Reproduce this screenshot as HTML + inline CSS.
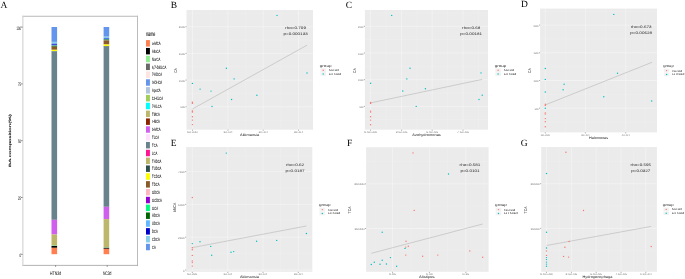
<!DOCTYPE html>
<html lang="en">
<head>
<meta charset="utf-8">
<title>Figure</title>
<style>
html,body{margin:0;padding:0;background:#fff;}
body{width:685px;height:279px;overflow:hidden;}
svg{display:block;}
text{text-rendering:geometricPrecision;}
text.s{font-family:'Liberation Sans', sans-serif;}
text.r{font-family:'Liberation Serif', serif;}
</style>
</head>
<body>
<svg width="685" height="279" viewBox="0 0 685 279">
<rect x="0" y="0" width="685" height="279" fill="#ffffff"/>
<g id="panelA">
<text class="r" x="0.6" y="7.9" font-size="9.5" text-anchor="start" fill="#000">A</text>
<line x1="22.3" x2="138.0" y1="16.25" y2="16.25" stroke="#b8b8b8" stroke-width="1"/>
<line x1="137.5" x2="137.5" y1="15.8" y2="265.8" stroke="#bcbcbc" stroke-width="1"/>
<line x1="22.3" x2="138.0" y1="265.4" y2="265.4" stroke="#a0a0a0" stroke-width="0.8"/>
<line x1="22.85" x2="22.85" y1="15.8" y2="265.8" stroke="#d6d6d6" stroke-width="1.2"/>
<rect x="51.5" y="27.00" width="5.6" height="14.90" fill="#6495ED"/>
<rect x="51.5" y="41.90" width="5.6" height="1.90" fill="#87CEEB"/>
<rect x="51.5" y="43.80" width="5.6" height="1.00" fill="#0000CD"/>
<rect x="51.5" y="44.80" width="5.6" height="0.90" fill="#63B8FF"/>
<rect x="51.5" y="45.70" width="5.6" height="1.00" fill="#006400"/>
<rect x="51.5" y="46.70" width="5.6" height="3.10" fill="#8B5A2B"/>
<rect x="51.5" y="49.80" width="5.6" height="1.20" fill="#FFFF00"/>
<rect x="51.5" y="51.00" width="5.6" height="0.30" fill="#2F4F4F"/>
<rect x="51.5" y="51.30" width="5.6" height="168.50" fill="#68838B"/>
<rect x="51.5" y="219.80" width="5.6" height="14.70" fill="#D15FEE"/>
<rect x="51.5" y="234.50" width="5.6" height="10.80" fill="#BDB76B"/>
<rect x="51.5" y="245.30" width="5.6" height="0.60" fill="#90EE90"/>
<rect x="51.5" y="245.90" width="5.6" height="1.90" fill="#000000"/>
<rect x="51.5" y="247.80" width="5.6" height="6.40" fill="#FF7F50"/>
<rect x="103.6" y="27.00" width="5.6" height="9.70" fill="#6495ED"/>
<rect x="103.6" y="36.70" width="5.6" height="1.20" fill="#87CEEB"/>
<rect x="103.6" y="37.90" width="5.6" height="1.30" fill="#4A7BE8"/>
<rect x="103.6" y="39.20" width="5.6" height="1.20" fill="#2E8B57"/>
<rect x="103.6" y="40.40" width="5.6" height="4.10" fill="#8B5A2B"/>
<rect x="103.6" y="44.50" width="5.6" height="1.50" fill="#FFFF00"/>
<rect x="103.6" y="46.00" width="5.6" height="0.60" fill="#2F4F4F"/>
<rect x="103.6" y="46.60" width="5.6" height="160.20" fill="#68838B"/>
<rect x="103.6" y="206.80" width="5.6" height="12.30" fill="#D15FEE"/>
<rect x="103.6" y="219.10" width="5.6" height="28.20" fill="#BDB76B"/>
<rect x="103.6" y="247.30" width="5.6" height="0.50" fill="#90EE90"/>
<rect x="103.6" y="247.80" width="5.6" height="1.00" fill="#000000"/>
<rect x="103.6" y="248.80" width="5.6" height="5.40" fill="#FF7F50"/>
<line x1="21.30" x2="22.40" y1="254.30" y2="254.30" stroke="#222" stroke-width="0.75"/>
<text class="s" x="20.900000000000002" y="256.8" font-size="4.9" text-anchor="end" fill="#333" textLength="1.5" lengthAdjust="spacingAndGlyphs" stroke="#000" stroke-width="0.08" stroke-opacity="0.8">0</text>
<line x1="21.30" x2="22.40" y1="197.50" y2="197.50" stroke="#222" stroke-width="0.75"/>
<text class="s" x="20.900000000000002" y="200.0" font-size="4.9" text-anchor="end" fill="#333" textLength="3.0" lengthAdjust="spacingAndGlyphs" stroke="#000" stroke-width="0.08" stroke-opacity="0.8">25</text>
<line x1="21.30" x2="22.40" y1="140.70" y2="140.70" stroke="#222" stroke-width="0.75"/>
<text class="s" x="20.900000000000002" y="143.2" font-size="4.9" text-anchor="end" fill="#333" textLength="3.0" lengthAdjust="spacingAndGlyphs" stroke="#000" stroke-width="0.08" stroke-opacity="0.8">50</text>
<line x1="21.30" x2="22.40" y1="83.90" y2="83.90" stroke="#222" stroke-width="0.75"/>
<text class="s" x="20.900000000000002" y="86.4" font-size="4.9" text-anchor="end" fill="#333" textLength="3.0" lengthAdjust="spacingAndGlyphs" stroke="#000" stroke-width="0.08" stroke-opacity="0.8">75</text>
<line x1="21.30" x2="22.40" y1="27.10" y2="27.10" stroke="#222" stroke-width="0.75"/>
<text class="s" x="20.900000000000002" y="29.6" font-size="4.9" text-anchor="end" fill="#333" textLength="4.4" lengthAdjust="spacingAndGlyphs" stroke="#000" stroke-width="0.08" stroke-opacity="0.8">100</text>
<line x1="55.6" x2="55.6" y1="265.5" y2="266.7" stroke="#222" stroke-width="0.6"/>
<text class="s" x="55.6" y="274.6" font-size="5.0" text-anchor="middle" fill="#333" textLength="11.0" lengthAdjust="spacingAndGlyphs" stroke="#000" stroke-width="0.08" stroke-opacity="0.8">HTN3d</text>
<line x1="107.2" x2="107.2" y1="265.5" y2="266.7" stroke="#222" stroke-width="0.6"/>
<text class="s" x="107.2" y="274.6" font-size="5.0" text-anchor="middle" fill="#333" textLength="8.6" lengthAdjust="spacingAndGlyphs" stroke="#000" stroke-width="0.08" stroke-opacity="0.8">NC3d</text>
<text class="s" transform="translate(10.9,140.5) scale(0.5,1) rotate(-90)" font-size="6.25" text-anchor="middle" fill="#000" stroke="#000" stroke-width="0.3" stroke-opacity="0.7">BA composition(%)</text>
<text class="s" x="146.0" y="36.0" font-size="6.4" text-anchor="start" fill="#000" textLength="9.3" lengthAdjust="spacingAndGlyphs" stroke="#000" stroke-width="0.08" stroke-opacity="0.8">name</text>
<rect x="146.0" y="40.10" width="3.9" height="6.45" fill="#FF7F50"/>
<text class="s" x="152.1" y="45.0" font-size="4.6" text-anchor="start" fill="#000" textLength="8.38" lengthAdjust="spacingAndGlyphs" stroke="#000" stroke-width="0.08" stroke-opacity="0.8">a-MCA</text>
<rect x="146.0" y="47.94" width="3.9" height="6.45" fill="#000000"/>
<text class="s" x="152.1" y="52.84" font-size="4.6" text-anchor="start" fill="#000" textLength="8.24" lengthAdjust="spacingAndGlyphs" stroke="#000" stroke-width="0.08" stroke-opacity="0.8">AlloCA</text>
<rect x="146.0" y="55.77" width="3.9" height="6.45" fill="#90EE90"/>
<text class="s" x="152.1" y="60.67" font-size="4.6" text-anchor="start" fill="#000" textLength="8.09" lengthAdjust="spacingAndGlyphs" stroke="#000" stroke-width="0.08" stroke-opacity="0.8">NorCA</text>
<rect x="146.0" y="63.61" width="3.9" height="6.45" fill="#696969"/>
<text class="s" x="152.1" y="68.51" font-size="4.6" text-anchor="start" fill="#000" textLength="14.23" lengthAdjust="spacingAndGlyphs" stroke="#000" stroke-width="0.08" stroke-opacity="0.8">6,7-DiKLCA</text>
<rect x="146.0" y="71.44" width="3.9" height="6.45" fill="#FFE4E1"/>
<text class="s" x="152.1" y="76.34" font-size="4.6" text-anchor="start" fill="#000" textLength="9.88" lengthAdjust="spacingAndGlyphs" stroke="#000" stroke-width="0.08" stroke-opacity="0.8">7-KDCA</text>
<rect x="146.0" y="79.28" width="3.9" height="6.45" fill="#6495ED"/>
<text class="s" x="152.1" y="84.18" font-size="4.6" text-anchor="start" fill="#000" textLength="10.03" lengthAdjust="spacingAndGlyphs" stroke="#000" stroke-width="0.08" stroke-opacity="0.8">3-DHCA</text>
<rect x="146.0" y="87.11" width="3.9" height="6.45" fill="#B0C4DE"/>
<text class="s" x="152.1" y="92.01" font-size="4.6" text-anchor="start" fill="#000" textLength="8.54" lengthAdjust="spacingAndGlyphs" stroke="#000" stroke-width="0.08" stroke-opacity="0.8">ApoCA</text>
<rect x="146.0" y="94.94" width="3.9" height="6.45" fill="#A2CD5A"/>
<text class="s" x="152.1" y="99.84" font-size="4.6" text-anchor="start" fill="#000" textLength="10.93" lengthAdjust="spacingAndGlyphs" stroke="#000" stroke-width="0.08" stroke-opacity="0.8">12-KLCA</text>
<rect x="146.0" y="102.78" width="3.9" height="6.45" fill="#00FFFF"/>
<text class="s" x="152.1" y="107.68" font-size="4.6" text-anchor="start" fill="#000" textLength="9.44" lengthAdjust="spacingAndGlyphs" stroke="#000" stroke-width="0.08" stroke-opacity="0.8">7-KLCA</text>
<rect x="146.0" y="110.62" width="3.9" height="6.45" fill="#BDB76B"/>
<text class="s" x="152.1" y="115.52" font-size="4.6" text-anchor="start" fill="#000" textLength="7.63" lengthAdjust="spacingAndGlyphs" stroke="#000" stroke-width="0.08" stroke-opacity="0.8">TMCA</text>
<rect x="146.0" y="118.45" width="3.9" height="6.45" fill="#8B2500"/>
<text class="s" x="152.1" y="123.35" font-size="4.6" text-anchor="start" fill="#000" textLength="7.78" lengthAdjust="spacingAndGlyphs" stroke="#000" stroke-width="0.08" stroke-opacity="0.8">r-MCA</text>
<rect x="146.0" y="126.28" width="3.9" height="6.45" fill="#D15FEE"/>
<text class="s" x="152.1" y="131.19" font-size="4.6" text-anchor="start" fill="#000" textLength="8.38" lengthAdjust="spacingAndGlyphs" stroke="#000" stroke-width="0.08" stroke-opacity="0.8">b-MCA</text>
<rect x="146.0" y="134.12" width="3.9" height="6.45" fill="#FFE1FF"/>
<text class="s" x="152.1" y="139.02" font-size="4.6" text-anchor="start" fill="#000" textLength="6.89" lengthAdjust="spacingAndGlyphs" stroke="#000" stroke-width="0.08" stroke-opacity="0.8">TLCA</text>
<rect x="146.0" y="141.96" width="3.9" height="6.45" fill="#68838B"/>
<text class="s" x="152.1" y="146.86" font-size="4.6" text-anchor="start" fill="#000" textLength="5.39" lengthAdjust="spacingAndGlyphs" stroke="#000" stroke-width="0.08" stroke-opacity="0.8">TCA</text>
<rect x="146.0" y="149.79" width="3.9" height="6.45" fill="#FF1493"/>
<text class="s" x="152.1" y="154.69" font-size="4.6" text-anchor="start" fill="#000" textLength="5.24" lengthAdjust="spacingAndGlyphs" stroke="#000" stroke-width="0.08" stroke-opacity="0.8">LCA</text>
<rect x="146.0" y="157.62" width="3.9" height="6.45" fill="#BDB76B"/>
<text class="s" x="152.1" y="162.53" font-size="4.6" text-anchor="start" fill="#000" textLength="9.28" lengthAdjust="spacingAndGlyphs" stroke="#000" stroke-width="0.08" stroke-opacity="0.8">THDCA</text>
<rect x="146.0" y="165.46" width="3.9" height="6.45" fill="#2F4F4F"/>
<text class="s" x="152.1" y="170.36" font-size="4.6" text-anchor="start" fill="#000" textLength="9.28" lengthAdjust="spacingAndGlyphs" stroke="#000" stroke-width="0.08" stroke-opacity="0.8">TUDCA</text>
<rect x="146.0" y="173.29" width="3.9" height="6.45" fill="#FFFF00"/>
<text class="s" x="152.1" y="178.19" font-size="4.6" text-anchor="start" fill="#000" textLength="9.28" lengthAdjust="spacingAndGlyphs" stroke="#000" stroke-width="0.08" stroke-opacity="0.8">TCDCA</text>
<rect x="146.0" y="181.13" width="3.9" height="6.45" fill="#8B5A2B"/>
<text class="s" x="152.1" y="186.03" font-size="4.6" text-anchor="start" fill="#000" textLength="7.34" lengthAdjust="spacingAndGlyphs" stroke="#000" stroke-width="0.08" stroke-opacity="0.8">TDCA</text>
<rect x="146.0" y="188.97" width="3.9" height="6.45" fill="#FFB6C1"/>
<text class="s" x="152.1" y="193.87" font-size="4.6" text-anchor="start" fill="#000" textLength="7.79" lengthAdjust="spacingAndGlyphs" stroke="#000" stroke-width="0.08" stroke-opacity="0.8">GDCA</text>
<rect x="146.0" y="196.80" width="3.9" height="6.45" fill="#9400D3"/>
<text class="s" x="152.1" y="201.7" font-size="4.6" text-anchor="start" fill="#000" textLength="9.73" lengthAdjust="spacingAndGlyphs" stroke="#000" stroke-width="0.08" stroke-opacity="0.8">GCDCA</text>
<rect x="146.0" y="204.63" width="3.9" height="6.45" fill="#00FF7F"/>
<text class="s" x="152.1" y="209.53" font-size="4.6" text-anchor="start" fill="#000" textLength="5.84" lengthAdjust="spacingAndGlyphs" stroke="#000" stroke-width="0.08" stroke-opacity="0.8">GCA</text>
<rect x="146.0" y="212.47" width="3.9" height="6.45" fill="#006400"/>
<text class="s" x="152.1" y="217.37" font-size="4.6" text-anchor="start" fill="#000" textLength="7.63" lengthAdjust="spacingAndGlyphs" stroke="#000" stroke-width="0.08" stroke-opacity="0.8">HDCA</text>
<rect x="146.0" y="220.31" width="3.9" height="6.45" fill="#63B8FF"/>
<text class="s" x="152.1" y="225.21" font-size="4.6" text-anchor="start" fill="#000" textLength="7.63" lengthAdjust="spacingAndGlyphs" stroke="#000" stroke-width="0.08" stroke-opacity="0.8">UDCA</text>
<rect x="146.0" y="228.14" width="3.9" height="6.45" fill="#0000CD"/>
<text class="s" x="152.1" y="233.04" font-size="4.6" text-anchor="start" fill="#000" textLength="5.69" lengthAdjust="spacingAndGlyphs" stroke="#000" stroke-width="0.08" stroke-opacity="0.8">DCA</text>
<rect x="146.0" y="235.97" width="3.9" height="6.45" fill="#87CEEB"/>
<text class="s" x="152.1" y="240.88" font-size="4.6" text-anchor="start" fill="#000" textLength="7.63" lengthAdjust="spacingAndGlyphs" stroke="#000" stroke-width="0.08" stroke-opacity="0.8">CDCA</text>
<rect x="146.0" y="243.81" width="3.9" height="6.45" fill="#6495ED"/>
<text class="s" x="152.1" y="248.71" font-size="4.6" text-anchor="start" fill="#000" textLength="3.74" lengthAdjust="spacingAndGlyphs" stroke="#000" stroke-width="0.08" stroke-opacity="0.8">CA</text>
</g>
<g id="panelB">
<text class="r" x="170.7" y="7.8" font-size="9.5" text-anchor="start" fill="#000">B</text>
<rect x="186.5" y="10.0" width="126.50" height="119.70" fill="#EBEBEB"/>
<line x1="186.5" x2="313.0" y1="120.15" y2="120.15" stroke="#fff" stroke-width="0.14"/>
<line x1="186.5" x2="313.0" y1="93.45" y2="93.45" stroke="#fff" stroke-width="0.14"/>
<line x1="186.5" x2="313.0" y1="66.75" y2="66.75" stroke="#fff" stroke-width="0.14"/>
<line x1="186.5" x2="313.0" y1="40.05" y2="40.05" stroke="#fff" stroke-width="0.14"/>
<line x1="186.5" x2="313.0" y1="13.35" y2="13.35" stroke="#fff" stroke-width="0.14"/>
<line x1="210.20" x2="210.20" y1="10.0" y2="129.7" stroke="#fff" stroke-width="0.14"/>
<line x1="245.50" x2="245.50" y1="10.0" y2="129.7" stroke="#fff" stroke-width="0.14"/>
<line x1="280.90" x2="280.90" y1="10.0" y2="129.7" stroke="#fff" stroke-width="0.14"/>
<line x1="186.5" x2="313.0" y1="106.80" y2="106.80" stroke="#fff" stroke-width="0.35"/>
<line x1="186.5" x2="313.0" y1="80.10" y2="80.10" stroke="#fff" stroke-width="0.35"/>
<line x1="186.5" x2="313.0" y1="53.40" y2="53.40" stroke="#fff" stroke-width="0.35"/>
<line x1="186.5" x2="313.0" y1="26.70" y2="26.70" stroke="#fff" stroke-width="0.35"/>
<line x1="192.50" x2="192.50" y1="10.0" y2="129.7" stroke="#fff" stroke-width="0.35"/>
<line x1="227.90" x2="227.90" y1="10.0" y2="129.7" stroke="#fff" stroke-width="0.35"/>
<line x1="263.20" x2="263.20" y1="10.0" y2="129.7" stroke="#fff" stroke-width="0.35"/>
<line x1="298.50" x2="298.50" y1="10.0" y2="129.7" stroke="#fff" stroke-width="0.35"/>
<line x1="192.4" y1="109.0" x2="307.0" y2="45.2" stroke="#a8a8a8" stroke-width="0.48"/>
<circle cx="192.4" cy="102.3" r="0.7" fill="#F8766D"/>
<circle cx="192.4" cy="103.3" r="0.7" fill="#F8766D"/>
<circle cx="192.4" cy="111.0" r="0.7" fill="#F8766D"/>
<circle cx="192.4" cy="112.0" r="0.7" fill="#F8766D"/>
<circle cx="192.4" cy="116.7" r="0.7" fill="#F8766D"/>
<circle cx="192.4" cy="120.1" r="0.7" fill="#F8766D"/>
<circle cx="192.4" cy="124.6" r="0.7" fill="#F8766D"/>
<circle cx="277.0" cy="15.4" r="0.7" fill="#00BFC4"/>
<circle cx="226.4" cy="68.3" r="0.7" fill="#00BFC4"/>
<circle cx="307.0" cy="73.0" r="0.7" fill="#00BFC4"/>
<circle cx="192.4" cy="83.4" r="0.7" fill="#00BFC4"/>
<circle cx="200.1" cy="89.1" r="0.7" fill="#00BFC4"/>
<circle cx="211.0" cy="91.1" r="0.7" fill="#00BFC4"/>
<circle cx="234.1" cy="78.9" r="0.7" fill="#00BFC4"/>
<circle cx="231.6" cy="99.5" r="0.7" fill="#00BFC4"/>
<circle cx="212.0" cy="106.5" r="0.7" fill="#00BFC4"/>
<circle cx="256.9" cy="95.3" r="0.7" fill="#00BFC4"/>
<text class="s" x="295.6" y="28.8" font-size="3.6" text-anchor="middle" fill="#222" textLength="20.72" lengthAdjust="spacingAndGlyphs">rho=0.709</text>
<text class="s" x="295.6" y="34.8" font-size="3.6" text-anchor="middle" fill="#222" textLength="24.28" lengthAdjust="spacingAndGlyphs">p=0.000133</text>
<line x1="185.50" x2="186.5" y1="106.80" y2="106.80" stroke="#333" stroke-width="0.45"/>
<text class="s" x="185.0" y="108.3" font-size="2.7" text-anchor="end" fill="#707070" textLength="4.59" lengthAdjust="spacingAndGlyphs">500</text>
<line x1="185.50" x2="186.5" y1="80.10" y2="80.10" stroke="#333" stroke-width="0.45"/>
<text class="s" x="185.0" y="81.6" font-size="2.7" text-anchor="end" fill="#707070" textLength="6.12" lengthAdjust="spacingAndGlyphs">1000</text>
<line x1="185.50" x2="186.5" y1="53.40" y2="53.40" stroke="#333" stroke-width="0.45"/>
<text class="s" x="185.0" y="54.9" font-size="2.7" text-anchor="end" fill="#707070" textLength="6.12" lengthAdjust="spacingAndGlyphs">1500</text>
<line x1="185.50" x2="186.5" y1="26.70" y2="26.70" stroke="#333" stroke-width="0.45"/>
<text class="s" x="185.0" y="28.2" font-size="2.7" text-anchor="end" fill="#707070" textLength="6.12" lengthAdjust="spacingAndGlyphs">2000</text>
<line x1="192.50" x2="192.50" y1="129.7" y2="130.70" stroke="#333" stroke-width="0.45"/>
<text class="s" x="192.5" y="133.15" font-size="2.7" text-anchor="middle" fill="#707070" textLength="10.39" lengthAdjust="spacingAndGlyphs">0e+00</text>
<line x1="227.90" x2="227.90" y1="129.7" y2="130.70" stroke="#333" stroke-width="0.45"/>
<text class="s" x="227.9" y="133.15" font-size="2.7" text-anchor="middle" fill="#707070" textLength="9.46" lengthAdjust="spacingAndGlyphs">1e-04</text>
<line x1="263.20" x2="263.20" y1="129.7" y2="130.70" stroke="#333" stroke-width="0.45"/>
<text class="s" x="263.2" y="133.15" font-size="2.7" text-anchor="middle" fill="#707070" textLength="9.46" lengthAdjust="spacingAndGlyphs">2e-04</text>
<line x1="298.50" x2="298.50" y1="129.7" y2="130.70" stroke="#333" stroke-width="0.45"/>
<text class="s" x="298.5" y="133.15" font-size="2.7" text-anchor="middle" fill="#707070" textLength="9.46" lengthAdjust="spacingAndGlyphs">3e-04</text>
<text class="s" x="249.6" y="136.2" font-size="3.5" text-anchor="middle" fill="#222" textLength="19.0" lengthAdjust="spacingAndGlyphs">Akkmansia</text>
<text class="s" transform="translate(176.5,70.5) scale(1.2,1) rotate(-90)" font-size="3.4" text-anchor="middle" fill="#222">CA</text>
<text class="s" x="319.8" y="67.0" font-size="3.5" text-anchor="start" fill="#222" textLength="11.69" lengthAdjust="spacingAndGlyphs">group</text>
<rect x="320.40" y="68.35" width="5.6" height="3.7" fill="#F2F2F2"/>
<circle cx="323.20" cy="70.20" r="0.7" fill="#F8766D"/>
<text class="s" x="328.8" y="71.2" font-size="2.7" text-anchor="start" fill="#222" textLength="9.97" lengthAdjust="spacingAndGlyphs">NC3d</text>
<rect x="320.40" y="72.20" width="5.6" height="3.7" fill="#F2F2F2"/>
<circle cx="323.20" cy="74.05" r="0.7" fill="#00BFC4"/>
<text class="s" x="328.8" y="75.05" font-size="2.7" text-anchor="start" fill="#222" textLength="12.35" lengthAdjust="spacingAndGlyphs">HTN3d</text>
</g>
<g id="panelC">
<text class="r" x="345.8" y="7.8" font-size="9.5" text-anchor="start" fill="#000">C</text>
<rect x="364.9" y="10.0" width="123.10" height="119.70" fill="#EBEBEB"/>
<line x1="364.9" x2="488.0" y1="119.75" y2="119.75" stroke="#fff" stroke-width="0.14"/>
<line x1="364.9" x2="488.0" y1="93.05" y2="93.05" stroke="#fff" stroke-width="0.14"/>
<line x1="364.9" x2="488.0" y1="66.35" y2="66.35" stroke="#fff" stroke-width="0.14"/>
<line x1="364.9" x2="488.0" y1="39.65" y2="39.65" stroke="#fff" stroke-width="0.14"/>
<line x1="364.9" x2="488.0" y1="12.95" y2="12.95" stroke="#fff" stroke-width="0.14"/>
<line x1="386.10" x2="386.10" y1="10.0" y2="129.7" stroke="#fff" stroke-width="0.14"/>
<line x1="416.90" x2="416.90" y1="10.0" y2="129.7" stroke="#fff" stroke-width="0.14"/>
<line x1="447.60" x2="447.60" y1="10.0" y2="129.7" stroke="#fff" stroke-width="0.14"/>
<line x1="478.40" x2="478.40" y1="10.0" y2="129.7" stroke="#fff" stroke-width="0.14"/>
<line x1="364.9" x2="488.0" y1="106.40" y2="106.40" stroke="#fff" stroke-width="0.35"/>
<line x1="364.9" x2="488.0" y1="79.70" y2="79.70" stroke="#fff" stroke-width="0.35"/>
<line x1="364.9" x2="488.0" y1="53.00" y2="53.00" stroke="#fff" stroke-width="0.35"/>
<line x1="364.9" x2="488.0" y1="26.30" y2="26.30" stroke="#fff" stroke-width="0.35"/>
<line x1="370.60" x2="370.60" y1="10.0" y2="129.7" stroke="#fff" stroke-width="0.35"/>
<line x1="401.60" x2="401.60" y1="10.0" y2="129.7" stroke="#fff" stroke-width="0.35"/>
<line x1="432.20" x2="432.20" y1="10.0" y2="129.7" stroke="#fff" stroke-width="0.35"/>
<line x1="463.00" x2="463.00" y1="10.0" y2="129.7" stroke="#fff" stroke-width="0.35"/>
<line x1="370.6" y1="102.9" x2="482.2" y2="79.4" stroke="#a8a8a8" stroke-width="0.48"/>
<circle cx="370.6" cy="102.4" r="0.7" fill="#F8766D"/>
<circle cx="370.6" cy="103.4" r="0.7" fill="#F8766D"/>
<circle cx="370.6" cy="111.1" r="0.7" fill="#F8766D"/>
<circle cx="370.6" cy="112.1" r="0.7" fill="#F8766D"/>
<circle cx="370.6" cy="116.8" r="0.7" fill="#F8766D"/>
<circle cx="370.6" cy="120.1" r="0.7" fill="#F8766D"/>
<circle cx="370.6" cy="124.8" r="0.7" fill="#F8766D"/>
<circle cx="391.7" cy="15.4" r="0.7" fill="#00BFC4"/>
<circle cx="410.0" cy="68.2" r="0.7" fill="#00BFC4"/>
<circle cx="406.8" cy="78.9" r="0.7" fill="#00BFC4"/>
<circle cx="370.6" cy="83.3" r="0.7" fill="#00BFC4"/>
<circle cx="402.8" cy="91.0" r="0.7" fill="#00BFC4"/>
<circle cx="425.4" cy="88.8" r="0.7" fill="#00BFC4"/>
<circle cx="416.2" cy="106.4" r="0.7" fill="#00BFC4"/>
<circle cx="481.0" cy="72.9" r="0.7" fill="#00BFC4"/>
<circle cx="482.2" cy="95.3" r="0.7" fill="#00BFC4"/>
<circle cx="479.0" cy="99.5" r="0.7" fill="#00BFC4"/>
<text class="s" x="471.2" y="28.5" font-size="3.6" text-anchor="middle" fill="#222" textLength="18.17" lengthAdjust="spacingAndGlyphs">rho=0.68</text>
<text class="s" x="471.2" y="34.5" font-size="3.6" text-anchor="middle" fill="#222" textLength="21.74" lengthAdjust="spacingAndGlyphs">p=0.00181</text>
<line x1="363.90" x2="364.9" y1="106.40" y2="106.40" stroke="#333" stroke-width="0.45"/>
<text class="s" x="363.4" y="107.9" font-size="2.7" text-anchor="end" fill="#707070" textLength="4.0" lengthAdjust="spacingAndGlyphs">500</text>
<line x1="363.90" x2="364.9" y1="79.70" y2="79.70" stroke="#333" stroke-width="0.45"/>
<text class="s" x="363.4" y="81.2" font-size="2.7" text-anchor="end" fill="#707070" textLength="5.34" lengthAdjust="spacingAndGlyphs">1000</text>
<line x1="363.90" x2="364.9" y1="53.00" y2="53.00" stroke="#333" stroke-width="0.45"/>
<text class="s" x="363.4" y="54.5" font-size="2.7" text-anchor="end" fill="#707070" textLength="5.34" lengthAdjust="spacingAndGlyphs">1500</text>
<line x1="363.90" x2="364.9" y1="26.30" y2="26.30" stroke="#333" stroke-width="0.45"/>
<text class="s" x="363.4" y="27.8" font-size="2.7" text-anchor="end" fill="#707070" textLength="5.34" lengthAdjust="spacingAndGlyphs">2000</text>
<line x1="370.60" x2="370.60" y1="129.7" y2="130.70" stroke="#333" stroke-width="0.45"/>
<text class="s" x="370.6" y="133.15" font-size="2.7" text-anchor="middle" fill="#707070" textLength="12.75" lengthAdjust="spacingAndGlyphs">0.0e+00</text>
<line x1="401.60" x2="401.60" y1="129.7" y2="130.70" stroke="#333" stroke-width="0.45"/>
<text class="s" x="401.6" y="133.15" font-size="2.7" text-anchor="middle" fill="#707070" textLength="11.87" lengthAdjust="spacingAndGlyphs">2.5e-05</text>
<line x1="432.20" x2="432.20" y1="129.7" y2="130.70" stroke="#333" stroke-width="0.45"/>
<text class="s" x="432.2" y="133.15" font-size="2.7" text-anchor="middle" fill="#707070" textLength="11.87" lengthAdjust="spacingAndGlyphs">5.0e-05</text>
<line x1="463.00" x2="463.00" y1="129.7" y2="130.70" stroke="#333" stroke-width="0.45"/>
<text class="s" x="463.0" y="133.15" font-size="2.7" text-anchor="middle" fill="#707070" textLength="11.87" lengthAdjust="spacingAndGlyphs">7.5e-05</text>
<text class="s" x="426.6" y="136.2" font-size="3.5" text-anchor="middle" fill="#222" textLength="28.5" lengthAdjust="spacingAndGlyphs">Azohydromonas</text>
<text class="s" transform="translate(355.6,70.7) scale(1.2,1) rotate(-90)" font-size="3.4" text-anchor="middle" fill="#222">CA</text>
<text class="s" x="494.7" y="67.0" font-size="3.5" text-anchor="start" fill="#222" textLength="11.69" lengthAdjust="spacingAndGlyphs">group</text>
<rect x="495.30" y="68.35" width="5.6" height="3.7" fill="#F2F2F2"/>
<circle cx="498.10" cy="70.20" r="0.7" fill="#F8766D"/>
<text class="s" x="503.7" y="71.2" font-size="2.7" text-anchor="start" fill="#222" textLength="10.22" lengthAdjust="spacingAndGlyphs">NC3d</text>
<rect x="495.30" y="72.20" width="5.6" height="3.7" fill="#F2F2F2"/>
<circle cx="498.10" cy="74.05" r="0.7" fill="#00BFC4"/>
<text class="s" x="503.7" y="75.05" font-size="2.7" text-anchor="start" fill="#222" textLength="12.67" lengthAdjust="spacingAndGlyphs">HTN3d</text>
</g>
<g id="panelD">
<text class="r" x="520.9" y="6.5" font-size="9.5" text-anchor="start" fill="#000">D</text>
<rect x="540.1" y="8.6" width="116.90" height="123.80" fill="#EBEBEB"/>
<line x1="540.1" x2="657.0" y1="122.05" y2="122.05" stroke="#fff" stroke-width="0.14"/>
<line x1="540.1" x2="657.0" y1="94.35" y2="94.35" stroke="#fff" stroke-width="0.14"/>
<line x1="540.1" x2="657.0" y1="66.65" y2="66.65" stroke="#fff" stroke-width="0.14"/>
<line x1="540.1" x2="657.0" y1="38.95" y2="38.95" stroke="#fff" stroke-width="0.14"/>
<line x1="540.1" x2="657.0" y1="11.25" y2="11.25" stroke="#fff" stroke-width="0.14"/>
<line x1="565.40" x2="565.40" y1="8.6" y2="132.4" stroke="#fff" stroke-width="0.14"/>
<line x1="605.60" x2="605.60" y1="8.6" y2="132.4" stroke="#fff" stroke-width="0.14"/>
<line x1="645.80" x2="645.80" y1="8.6" y2="132.4" stroke="#fff" stroke-width="0.14"/>
<line x1="540.1" x2="657.0" y1="108.20" y2="108.20" stroke="#fff" stroke-width="0.35"/>
<line x1="540.1" x2="657.0" y1="80.50" y2="80.50" stroke="#fff" stroke-width="0.35"/>
<line x1="540.1" x2="657.0" y1="52.80" y2="52.80" stroke="#fff" stroke-width="0.35"/>
<line x1="540.1" x2="657.0" y1="25.10" y2="25.10" stroke="#fff" stroke-width="0.35"/>
<line x1="545.30" x2="545.30" y1="8.6" y2="132.4" stroke="#fff" stroke-width="0.35"/>
<line x1="585.40" x2="585.40" y1="8.6" y2="132.4" stroke="#fff" stroke-width="0.35"/>
<line x1="625.70" x2="625.70" y1="8.6" y2="132.4" stroke="#fff" stroke-width="0.35"/>
<line x1="545.3" y1="104.9" x2="652.0" y2="62.3" stroke="#a8a8a8" stroke-width="0.48"/>
<circle cx="545.3" cy="104.2" r="0.7" fill="#F8766D"/>
<circle cx="545.3" cy="105.4" r="0.7" fill="#F8766D"/>
<circle cx="545.3" cy="112.9" r="0.7" fill="#F8766D"/>
<circle cx="545.3" cy="114.1" r="0.7" fill="#F8766D"/>
<circle cx="545.3" cy="118.6" r="0.7" fill="#F8766D"/>
<circle cx="545.3" cy="121.8" r="0.7" fill="#F8766D"/>
<circle cx="545.3" cy="126.8" r="0.7" fill="#F8766D"/>
<circle cx="613.8" cy="14.4" r="0.7" fill="#00BFC4"/>
<circle cx="545.3" cy="68.5" r="0.7" fill="#00BFC4"/>
<circle cx="545.3" cy="79.4" r="0.7" fill="#00BFC4"/>
<circle cx="545.3" cy="92.0" r="0.7" fill="#00BFC4"/>
<circle cx="545.3" cy="108.2" r="0.7" fill="#00BFC4"/>
<circle cx="564.1" cy="84.3" r="0.7" fill="#00BFC4"/>
<circle cx="563.1" cy="89.8" r="0.7" fill="#00BFC4"/>
<circle cx="617.5" cy="73.2" r="0.7" fill="#00BFC4"/>
<circle cx="603.8" cy="96.7" r="0.7" fill="#00BFC4"/>
<circle cx="651.7" cy="101.0" r="0.7" fill="#00BFC4"/>
<text class="s" x="641.2" y="27.5" font-size="3.6" text-anchor="middle" fill="#222" textLength="20.72" lengthAdjust="spacingAndGlyphs">rho=0.673</text>
<text class="s" x="641.2" y="33.5" font-size="3.6" text-anchor="middle" fill="#222" textLength="21.74" lengthAdjust="spacingAndGlyphs">p=0.00628</text>
<line x1="539.10" x2="540.1" y1="108.20" y2="108.20" stroke="#333" stroke-width="0.45"/>
<text class="s" x="538.6" y="109.7" font-size="2.7" text-anchor="end" fill="#707070" textLength="3.84" lengthAdjust="spacingAndGlyphs">500</text>
<line x1="539.10" x2="540.1" y1="80.50" y2="80.50" stroke="#333" stroke-width="0.45"/>
<text class="s" x="538.6" y="82.0" font-size="2.7" text-anchor="end" fill="#707070" textLength="5.12" lengthAdjust="spacingAndGlyphs">1000</text>
<line x1="539.10" x2="540.1" y1="52.80" y2="52.80" stroke="#333" stroke-width="0.45"/>
<text class="s" x="538.6" y="54.3" font-size="2.7" text-anchor="end" fill="#707070" textLength="5.12" lengthAdjust="spacingAndGlyphs">1500</text>
<line x1="539.10" x2="540.1" y1="25.10" y2="25.10" stroke="#333" stroke-width="0.45"/>
<text class="s" x="538.6" y="26.6" font-size="2.7" text-anchor="end" fill="#707070" textLength="5.12" lengthAdjust="spacingAndGlyphs">2000</text>
<line x1="545.30" x2="545.30" y1="132.4" y2="133.40" stroke="#333" stroke-width="0.45"/>
<text class="s" x="545.3" y="135.85" font-size="2.7" text-anchor="middle" fill="#707070" textLength="9.13" lengthAdjust="spacingAndGlyphs">0e+00</text>
<line x1="585.40" x2="585.40" y1="132.4" y2="133.40" stroke="#333" stroke-width="0.45"/>
<text class="s" x="585.4" y="135.85" font-size="2.7" text-anchor="middle" fill="#707070" textLength="8.31" lengthAdjust="spacingAndGlyphs">2e-04</text>
<line x1="625.70" x2="625.70" y1="132.4" y2="133.40" stroke="#333" stroke-width="0.45"/>
<text class="s" x="625.7" y="135.85" font-size="2.7" text-anchor="middle" fill="#707070" textLength="8.31" lengthAdjust="spacingAndGlyphs">4e-04</text>
<text class="s" x="598.6" y="138.9" font-size="3.5" text-anchor="middle" fill="#222" textLength="19.0" lengthAdjust="spacingAndGlyphs">Halomonas</text>
<text class="s" transform="translate(530.6,70.7) scale(1.2,1) rotate(-90)" font-size="3.4" text-anchor="middle" fill="#222">CA</text>
<text class="s" x="663.2" y="67.4" font-size="3.5" text-anchor="start" fill="#222" textLength="10.48" lengthAdjust="spacingAndGlyphs">group</text>
<rect x="663.80" y="68.75" width="5.6" height="3.7" fill="#F2F2F2"/>
<circle cx="666.60" cy="70.60" r="0.7" fill="#F8766D"/>
<text class="s" x="672.2" y="71.6" font-size="2.7" text-anchor="start" fill="#222" textLength="9.84" lengthAdjust="spacingAndGlyphs">NC3d</text>
<rect x="663.80" y="72.60" width="5.6" height="3.7" fill="#F2F2F2"/>
<circle cx="666.60" cy="74.45" r="0.7" fill="#00BFC4"/>
<text class="s" x="672.2" y="75.45" font-size="2.7" text-anchor="start" fill="#222" textLength="12.19" lengthAdjust="spacingAndGlyphs">HTN3d</text>
</g>
<g id="panelE">
<text class="r" x="170.7" y="146.0" font-size="9.5" text-anchor="start" fill="#000">E</text>
<rect x="186.2" y="147.0" width="126.10" height="124.85" fill="#EBEBEB"/>
<line x1="186.2" x2="312.3" y1="253.60" y2="253.60" stroke="#fff" stroke-width="0.14"/>
<line x1="186.2" x2="312.3" y1="220.80" y2="220.80" stroke="#fff" stroke-width="0.14"/>
<line x1="186.2" x2="312.3" y1="188.00" y2="188.00" stroke="#fff" stroke-width="0.14"/>
<line x1="186.2" x2="312.3" y1="155.20" y2="155.20" stroke="#fff" stroke-width="0.14"/>
<line x1="210.00" x2="210.00" y1="147.0" y2="271.85" stroke="#fff" stroke-width="0.14"/>
<line x1="245.40" x2="245.40" y1="147.0" y2="271.85" stroke="#fff" stroke-width="0.14"/>
<line x1="280.70" x2="280.70" y1="147.0" y2="271.85" stroke="#fff" stroke-width="0.14"/>
<line x1="186.2" x2="312.3" y1="270.00" y2="270.00" stroke="#fff" stroke-width="0.35"/>
<line x1="186.2" x2="312.3" y1="237.20" y2="237.20" stroke="#fff" stroke-width="0.35"/>
<line x1="186.2" x2="312.3" y1="204.40" y2="204.40" stroke="#fff" stroke-width="0.35"/>
<line x1="186.2" x2="312.3" y1="171.60" y2="171.60" stroke="#fff" stroke-width="0.35"/>
<line x1="192.30" x2="192.30" y1="147.0" y2="271.85" stroke="#fff" stroke-width="0.35"/>
<line x1="227.80" x2="227.80" y1="147.0" y2="271.85" stroke="#fff" stroke-width="0.35"/>
<line x1="263.00" x2="263.00" y1="147.0" y2="271.85" stroke="#fff" stroke-width="0.35"/>
<line x1="298.30" x2="298.30" y1="147.0" y2="271.85" stroke="#fff" stroke-width="0.35"/>
<line x1="192.3" y1="247.6" x2="306.4" y2="226.0" stroke="#a8a8a8" stroke-width="0.48"/>
<circle cx="192.3" cy="197.5" r="0.7" fill="#F8766D"/>
<circle cx="192.3" cy="247.7" r="0.7" fill="#F8766D"/>
<circle cx="192.3" cy="249.7" r="0.7" fill="#F8766D"/>
<circle cx="192.3" cy="255.4" r="0.7" fill="#F8766D"/>
<circle cx="192.3" cy="260.9" r="0.7" fill="#F8766D"/>
<circle cx="192.3" cy="262.6" r="0.7" fill="#F8766D"/>
<circle cx="192.3" cy="266.1" r="0.7" fill="#F8766D"/>
<circle cx="226.3" cy="153.1" r="0.7" fill="#00BFC4"/>
<circle cx="192.3" cy="243.6" r="0.7" fill="#00BFC4"/>
<circle cx="200.0" cy="241.7" r="0.7" fill="#00BFC4"/>
<circle cx="210.7" cy="246.4" r="0.7" fill="#00BFC4"/>
<circle cx="211.7" cy="255.3" r="0.7" fill="#00BFC4"/>
<circle cx="231.0" cy="252.3" r="0.7" fill="#00BFC4"/>
<circle cx="233.7" cy="251.6" r="0.7" fill="#00BFC4"/>
<circle cx="256.6" cy="241.2" r="0.7" fill="#00BFC4"/>
<circle cx="276.7" cy="240.4" r="0.7" fill="#00BFC4"/>
<circle cx="306.4" cy="233.5" r="0.7" fill="#00BFC4"/>
<text class="s" x="295.0" y="165.9" font-size="3.6" text-anchor="middle" fill="#222" textLength="18.17" lengthAdjust="spacingAndGlyphs">rho=0.62</text>
<text class="s" x="295.0" y="171.9" font-size="3.6" text-anchor="middle" fill="#222" textLength="19.19" lengthAdjust="spacingAndGlyphs">p=0.0187</text>
<line x1="185.20" x2="186.2" y1="270.00" y2="270.00" stroke="#333" stroke-width="0.45"/>
<text class="s" x="184.7" y="271.5" font-size="2.7" text-anchor="end" fill="#707070" textLength="1.64" lengthAdjust="spacingAndGlyphs">0</text>
<line x1="185.20" x2="186.2" y1="237.20" y2="237.20" stroke="#333" stroke-width="0.45"/>
<text class="s" x="184.7" y="238.7" font-size="2.7" text-anchor="end" fill="#707070" textLength="6.56" lengthAdjust="spacingAndGlyphs">2500</text>
<line x1="185.20" x2="186.2" y1="204.40" y2="204.40" stroke="#333" stroke-width="0.45"/>
<text class="s" x="184.7" y="205.9" font-size="2.7" text-anchor="end" fill="#707070" textLength="6.56" lengthAdjust="spacingAndGlyphs">5000</text>
<line x1="185.20" x2="186.2" y1="171.60" y2="171.60" stroke="#333" stroke-width="0.45"/>
<text class="s" x="184.7" y="173.1" font-size="2.7" text-anchor="end" fill="#707070" textLength="6.56" lengthAdjust="spacingAndGlyphs">7500</text>
<line x1="192.30" x2="192.30" y1="271.85" y2="272.85" stroke="#333" stroke-width="0.45"/>
<text class="s" x="192.3" y="275.3" font-size="2.7" text-anchor="middle" fill="#707070" textLength="9.97" lengthAdjust="spacingAndGlyphs">0e+00</text>
<line x1="227.80" x2="227.80" y1="271.85" y2="272.85" stroke="#333" stroke-width="0.45"/>
<text class="s" x="227.8" y="275.3" font-size="2.7" text-anchor="middle" fill="#707070" textLength="9.08" lengthAdjust="spacingAndGlyphs">1e-04</text>
<line x1="263.00" x2="263.00" y1="271.85" y2="272.85" stroke="#333" stroke-width="0.45"/>
<text class="s" x="263.0" y="275.3" font-size="2.7" text-anchor="middle" fill="#707070" textLength="9.08" lengthAdjust="spacingAndGlyphs">2e-04</text>
<line x1="298.30" x2="298.30" y1="271.85" y2="272.85" stroke="#333" stroke-width="0.45"/>
<text class="s" x="298.3" y="275.3" font-size="2.7" text-anchor="middle" fill="#707070" textLength="9.08" lengthAdjust="spacingAndGlyphs">3e-04</text>
<text class="s" x="249.4" y="278.35" font-size="3.5" text-anchor="middle" fill="#222" textLength="19.0" lengthAdjust="spacingAndGlyphs">Akkmansia</text>
<text class="s" transform="translate(176.4,207.4) scale(1.2,1) rotate(-90)" font-size="3.4" text-anchor="middle" fill="#222">bMCA</text>
<text class="s" x="318.9" y="206.4" font-size="3.5" text-anchor="start" fill="#222" textLength="11.69" lengthAdjust="spacingAndGlyphs">group</text>
<rect x="319.50" y="207.75" width="5.6" height="3.7" fill="#F2F2F2"/>
<circle cx="322.30" cy="209.60" r="0.7" fill="#F8766D"/>
<text class="s" x="327.9" y="210.6" font-size="2.7" text-anchor="start" fill="#222" textLength="9.97" lengthAdjust="spacingAndGlyphs">NC3d</text>
<rect x="319.50" y="211.60" width="5.6" height="3.7" fill="#F2F2F2"/>
<circle cx="322.30" cy="213.45" r="0.7" fill="#00BFC4"/>
<text class="s" x="327.9" y="214.45" font-size="2.7" text-anchor="start" fill="#222" textLength="12.35" lengthAdjust="spacingAndGlyphs">HTN3d</text>
</g>
<g id="panelF">
<text class="r" x="346.9" y="146.1" font-size="9.5" text-anchor="start" fill="#000">F</text>
<rect x="366.1" y="147.2" width="122.50" height="124.60" fill="#EBEBEB"/>
<line x1="366.1" x2="488.6" y1="250.80" y2="250.80" stroke="#fff" stroke-width="0.14"/>
<line x1="366.1" x2="488.6" y1="206.20" y2="206.20" stroke="#fff" stroke-width="0.14"/>
<line x1="366.1" x2="488.6" y1="161.60" y2="161.60" stroke="#fff" stroke-width="0.14"/>
<line x1="374.80" x2="374.80" y1="147.2" y2="271.8" stroke="#fff" stroke-width="0.14"/>
<line x1="411.00" x2="411.00" y1="147.2" y2="271.8" stroke="#fff" stroke-width="0.14"/>
<line x1="447.60" x2="447.60" y1="147.2" y2="271.8" stroke="#fff" stroke-width="0.14"/>
<line x1="484.00" x2="484.00" y1="147.2" y2="271.8" stroke="#fff" stroke-width="0.14"/>
<line x1="366.1" x2="488.6" y1="228.50" y2="228.50" stroke="#fff" stroke-width="0.35"/>
<line x1="366.1" x2="488.6" y1="183.90" y2="183.90" stroke="#fff" stroke-width="0.35"/>
<line x1="392.60" x2="392.60" y1="147.2" y2="271.8" stroke="#fff" stroke-width="0.35"/>
<line x1="429.40" x2="429.40" y1="147.2" y2="271.8" stroke="#fff" stroke-width="0.35"/>
<line x1="465.80" x2="465.80" y1="147.2" y2="271.8" stroke="#fff" stroke-width="0.35"/>
<line x1="371.3" y1="253.3" x2="482.7" y2="224.0" stroke="#a8a8a8" stroke-width="0.48"/>
<circle cx="413.0" cy="152.9" r="0.7" fill="#F8766D"/>
<circle cx="414.2" cy="210.4" r="0.7" fill="#F8766D"/>
<circle cx="406.0" cy="241.2" r="0.7" fill="#F8766D"/>
<circle cx="408.3" cy="246.2" r="0.7" fill="#F8766D"/>
<circle cx="405.8" cy="247.1" r="0.7" fill="#F8766D"/>
<circle cx="405.8" cy="255.1" r="0.7" fill="#F8766D"/>
<circle cx="422.7" cy="256.3" r="0.7" fill="#F8766D"/>
<circle cx="437.8" cy="255.1" r="0.7" fill="#F8766D"/>
<circle cx="469.8" cy="250.9" r="0.7" fill="#F8766D"/>
<circle cx="482.7" cy="257.3" r="0.7" fill="#F8766D"/>
<circle cx="448.5" cy="174.0" r="0.7" fill="#00BFC4"/>
<circle cx="382.2" cy="232.3" r="0.7" fill="#00BFC4"/>
<circle cx="405.0" cy="248.4" r="0.7" fill="#00BFC4"/>
<circle cx="390.4" cy="257.6" r="0.7" fill="#00BFC4"/>
<circle cx="382.2" cy="260.3" r="0.7" fill="#00BFC4"/>
<circle cx="374.3" cy="262.3" r="0.7" fill="#00BFC4"/>
<circle cx="386.4" cy="264.0" r="0.7" fill="#00BFC4"/>
<circle cx="380.0" cy="264.3" r="0.7" fill="#00BFC4"/>
<circle cx="371.3" cy="264.5" r="0.7" fill="#00BFC4"/>
<circle cx="396.6" cy="266.3" r="0.7" fill="#00BFC4"/>
<text class="s" x="470.0" y="166.2" font-size="3.6" text-anchor="middle" fill="#222" textLength="20.72" lengthAdjust="spacingAndGlyphs">rho=0.581</text>
<text class="s" x="470.0" y="172.2" font-size="3.6" text-anchor="middle" fill="#222" textLength="19.19" lengthAdjust="spacingAndGlyphs">p=0.0101</text>
<line x1="365.10" x2="366.1" y1="228.50" y2="228.50" stroke="#333" stroke-width="0.45"/>
<text class="s" x="364.6" y="230.0" font-size="2.7" text-anchor="end" fill="#707070" textLength="10.29" lengthAdjust="spacingAndGlyphs">10000</text>
<line x1="365.10" x2="366.1" y1="183.90" y2="183.90" stroke="#333" stroke-width="0.45"/>
<text class="s" x="364.6" y="185.4" font-size="2.7" text-anchor="end" fill="#707070" textLength="10.29" lengthAdjust="spacingAndGlyphs">20000</text>
<line x1="392.60" x2="392.60" y1="271.8" y2="272.80" stroke="#333" stroke-width="0.45"/>
<text class="s" x="392.6" y="275.25" font-size="2.7" text-anchor="middle" fill="#707070" textLength="6.81" lengthAdjust="spacingAndGlyphs">0.05</text>
<line x1="429.40" x2="429.40" y1="271.8" y2="272.80" stroke="#333" stroke-width="0.45"/>
<text class="s" x="429.4" y="275.25" font-size="2.7" text-anchor="middle" fill="#707070" textLength="6.81" lengthAdjust="spacingAndGlyphs">0.10</text>
<line x1="465.80" x2="465.80" y1="271.8" y2="272.80" stroke="#333" stroke-width="0.45"/>
<text class="s" x="465.8" y="275.25" font-size="2.7" text-anchor="middle" fill="#707070" textLength="6.81" lengthAdjust="spacingAndGlyphs">0.15</text>
<text class="s" x="426.9" y="278.3" font-size="3.5" text-anchor="middle" fill="#222" textLength="15.7" lengthAdjust="spacingAndGlyphs">Alistipes</text>
<text class="s" transform="translate(351.0,210.0) scale(1.2,1) rotate(-90)" font-size="3.4" text-anchor="middle" fill="#222">TCA</text>
<text class="s" x="495.1" y="206.4" font-size="3.5" text-anchor="start" fill="#222" textLength="11.69" lengthAdjust="spacingAndGlyphs">group</text>
<rect x="495.70" y="207.75" width="5.6" height="3.7" fill="#F2F2F2"/>
<circle cx="498.50" cy="209.60" r="0.7" fill="#F8766D"/>
<text class="s" x="504.1" y="210.6" font-size="2.7" text-anchor="start" fill="#222" textLength="10.99" lengthAdjust="spacingAndGlyphs">NC3d</text>
<rect x="495.70" y="211.60" width="5.6" height="3.7" fill="#F2F2F2"/>
<circle cx="498.50" cy="213.45" r="0.7" fill="#00BFC4"/>
<text class="s" x="504.1" y="214.45" font-size="2.7" text-anchor="start" fill="#222" textLength="13.62" lengthAdjust="spacingAndGlyphs">HTN3d</text>
</g>
<g id="panelG">
<text class="r" x="520.8" y="145.9" font-size="9.5" text-anchor="start" fill="#000">G</text>
<rect x="541.2" y="147.0" width="115.70" height="124.80" fill="#EBEBEB"/>
<line x1="541.2" x2="656.9" y1="250.75" y2="250.75" stroke="#fff" stroke-width="0.14"/>
<line x1="541.2" x2="656.9" y1="206.05" y2="206.05" stroke="#fff" stroke-width="0.14"/>
<line x1="541.2" x2="656.9" y1="161.35" y2="161.35" stroke="#fff" stroke-width="0.14"/>
<line x1="559.00" x2="559.00" y1="147.0" y2="271.8" stroke="#fff" stroke-width="0.14"/>
<line x1="583.80" x2="583.80" y1="147.0" y2="271.8" stroke="#fff" stroke-width="0.14"/>
<line x1="608.60" x2="608.60" y1="147.0" y2="271.8" stroke="#fff" stroke-width="0.14"/>
<line x1="633.40" x2="633.40" y1="147.0" y2="271.8" stroke="#fff" stroke-width="0.14"/>
<line x1="541.2" x2="656.9" y1="228.40" y2="228.40" stroke="#fff" stroke-width="0.35"/>
<line x1="541.2" x2="656.9" y1="183.70" y2="183.70" stroke="#fff" stroke-width="0.35"/>
<line x1="546.50" x2="546.50" y1="147.0" y2="271.8" stroke="#fff" stroke-width="0.35"/>
<line x1="571.40" x2="571.40" y1="147.0" y2="271.8" stroke="#fff" stroke-width="0.35"/>
<line x1="596.20" x2="596.20" y1="147.0" y2="271.8" stroke="#fff" stroke-width="0.35"/>
<line x1="621.00" x2="621.00" y1="147.0" y2="271.8" stroke="#fff" stroke-width="0.35"/>
<line x1="645.80" x2="645.80" y1="147.0" y2="271.8" stroke="#fff" stroke-width="0.35"/>
<line x1="546.5" y1="245.5" x2="651.2" y2="226.4" stroke="#a8a8a8" stroke-width="0.48"/>
<circle cx="565.9" cy="152.3" r="0.7" fill="#F8766D"/>
<circle cx="583.5" cy="210.5" r="0.7" fill="#F8766D"/>
<circle cx="569.1" cy="241.5" r="0.7" fill="#F8766D"/>
<circle cx="564.9" cy="247.2" r="0.7" fill="#F8766D"/>
<circle cx="563.6" cy="256.4" r="0.7" fill="#F8766D"/>
<circle cx="568.6" cy="257.1" r="0.7" fill="#F8766D"/>
<circle cx="651.2" cy="246.5" r="0.7" fill="#F8766D"/>
<circle cx="546.5" cy="250.9" r="0.7" fill="#F8766D"/>
<circle cx="546.5" cy="255.4" r="0.7" fill="#F8766D"/>
<circle cx="546.5" cy="173.5" r="0.7" fill="#00BFC4"/>
<circle cx="546.5" cy="232.3" r="0.7" fill="#00BFC4"/>
<circle cx="546.5" cy="248.0" r="0.7" fill="#00BFC4"/>
<circle cx="546.5" cy="257.6" r="0.7" fill="#00BFC4"/>
<circle cx="546.5" cy="259.6" r="0.7" fill="#00BFC4"/>
<circle cx="546.5" cy="262.1" r="0.7" fill="#00BFC4"/>
<circle cx="546.5" cy="264.1" r="0.7" fill="#00BFC4"/>
<circle cx="546.5" cy="266.3" r="0.7" fill="#00BFC4"/>
<text class="s" x="640.8" y="166.0" font-size="3.6" text-anchor="middle" fill="#222" textLength="20.72" lengthAdjust="spacingAndGlyphs">rho=0.595</text>
<text class="s" x="640.8" y="172.0" font-size="3.6" text-anchor="middle" fill="#222" textLength="19.19" lengthAdjust="spacingAndGlyphs">p=0.0327</text>
<line x1="540.20" x2="541.2" y1="228.40" y2="228.40" stroke="#333" stroke-width="0.45"/>
<text class="s" x="539.7" y="229.9" font-size="2.7" text-anchor="end" fill="#707070" textLength="9.17" lengthAdjust="spacingAndGlyphs">10000</text>
<line x1="540.20" x2="541.2" y1="183.70" y2="183.70" stroke="#333" stroke-width="0.45"/>
<text class="s" x="539.7" y="185.2" font-size="2.7" text-anchor="end" fill="#707070" textLength="9.17" lengthAdjust="spacingAndGlyphs">20000</text>
<line x1="546.50" x2="546.50" y1="271.8" y2="272.80" stroke="#333" stroke-width="0.45"/>
<text class="s" x="546.5" y="275.25" font-size="2.7" text-anchor="middle" fill="#707070" textLength="12.56" lengthAdjust="spacingAndGlyphs">0.0e+00</text>
<line x1="571.40" x2="571.40" y1="271.8" y2="272.80" stroke="#333" stroke-width="0.45"/>
<text class="s" x="571.4" y="275.25" font-size="2.7" text-anchor="middle" fill="#707070" textLength="11.7" lengthAdjust="spacingAndGlyphs">2.5e-05</text>
<line x1="596.20" x2="596.20" y1="271.8" y2="272.80" stroke="#333" stroke-width="0.45"/>
<text class="s" x="596.2" y="275.25" font-size="2.7" text-anchor="middle" fill="#707070" textLength="11.7" lengthAdjust="spacingAndGlyphs">5.0e-05</text>
<line x1="621.00" x2="621.00" y1="271.8" y2="272.80" stroke="#333" stroke-width="0.45"/>
<text class="s" x="621.0" y="275.25" font-size="2.7" text-anchor="middle" fill="#707070" textLength="11.7" lengthAdjust="spacingAndGlyphs">7.5e-05</text>
<line x1="645.80" x2="645.80" y1="271.8" y2="272.80" stroke="#333" stroke-width="0.45"/>
<text class="s" x="645.8" y="275.25" font-size="2.7" text-anchor="middle" fill="#707070" textLength="11.7" lengthAdjust="spacingAndGlyphs">1.0e-04</text>
<text class="s" x="597.4" y="278.3" font-size="3.5" text-anchor="middle" fill="#222" textLength="30.0" lengthAdjust="spacingAndGlyphs">Hydrogenophaga</text>
<text class="s" transform="translate(527.4,210.0) scale(1.2,1) rotate(-90)" font-size="3.4" text-anchor="middle" fill="#222">TCA</text>
<text class="s" x="662.8" y="206.2" font-size="3.5" text-anchor="start" fill="#222" textLength="10.74" lengthAdjust="spacingAndGlyphs">group</text>
<rect x="663.40" y="207.55" width="5.6" height="3.7" fill="#F2F2F2"/>
<circle cx="666.20" cy="209.40" r="0.7" fill="#F8766D"/>
<text class="s" x="671.8" y="210.4" font-size="2.7" text-anchor="start" fill="#222" textLength="9.97" lengthAdjust="spacingAndGlyphs">NC3d</text>
<rect x="663.40" y="211.40" width="5.6" height="3.7" fill="#F2F2F2"/>
<circle cx="666.20" cy="213.25" r="0.7" fill="#00BFC4"/>
<text class="s" x="671.8" y="214.25" font-size="2.7" text-anchor="start" fill="#222" textLength="12.35" lengthAdjust="spacingAndGlyphs">HTN3d</text>
</g>
</svg>
</body>
</html>
